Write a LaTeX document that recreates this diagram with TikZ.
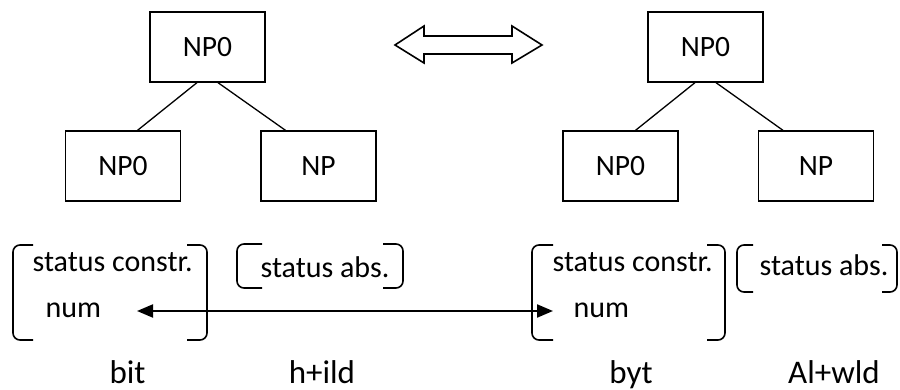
\documentclass[tikz,border=0pt]{standalone}
\usepackage{fontspec}
\setmainfont{Carlito}
\usetikzlibrary{arrows.meta}

\begin{document}
\begin{tikzpicture}[x=1pt,y=-1pt,line width=1.3pt,
	box/.style={draw,minimum width=115pt,minimum height=70pt,inner sep=0pt,font=\fontsize{29.5}{35}\selectfont},
	lab/.style={inner sep=0pt,anchor=base west,font=\fontsize{30}{36}\selectfont},
	word/.style={inner sep=0pt,anchor=base,font=\fontsize{33}{39}\selectfont},
	brk/.style={rounded corners=7pt,line width=1.6pt}]
	\useasboundingbox (0,0) rectangle (900,390);
	% left tree
	\node[box] (lt) at (207.5,47) {NP0};
	\node[box] (ll) at (123,166) {NP0};
	\node[box] (lr) at (318.5,166) {NP};
	\draw ([xshift=-10.5pt]lt.south) -- ([xshift=14.5pt]ll.north);
	\draw ([xshift=10.5pt]lt.south) -- ([xshift=-33pt]lr.north);
	% right tree
	\node[box] (rt) at (705.5,47) {NP0};
	\node[box] (rl) at (620.5,166) {NP0};
	\node[box] (rr) at (816,166) {NP};
	\draw ([xshift=-10.5pt]rt.south) -- ([xshift=15pt]rl.north);
	\draw ([xshift=10.5pt]rt.south) -- ([xshift=-33pt]rr.north);
	% hollow double arrow between the trees
	\draw[line width=1.6pt,line join=miter] (395,45) -- (424,26) -- (424,36) -- (512,36) -- (512,26)
		-- (542,45) -- (512,63) -- (512,54) -- (424,54) -- (424,63) -- cycle;
	% feature brackets
	\draw[brk] (33,245) -- (13,245) -- (13,340) -- (33,340);
	\draw[brk] (187,245) -- (207,245) -- (207,340) -- (187,340);
	\draw[brk] (262,244) -- (237,244) -- (237,288) -- (262,288);
	\draw[brk] (383,244) -- (403,244) -- (403,288) -- (383,288);
	\draw[brk] (553,245) -- (532,245) -- (532,340) -- (553,340);
	\draw[brk] (707,245) -- (725,245) -- (725,340) -- (707,340);
	\draw[brk] (753,245) -- (737,245) -- (737,292) -- (753,292);
	\draw[brk] (882,245) -- (897,245) -- (897,292) -- (882,292);
	\node[lab] (sc1) at (32,272) {status constr.};
	\node[lab] (num1) at (45,317) {num};
	\node[lab] (sa1) at (260,278) {status abs.};
	\node[lab] (sc2) at (552,272) {status constr.};
	\node[lab] (num2) at (573,317) {num};
	\node[lab] (sa2) at (759,276) {status abs.};
	% agreement link
	\coordinate (n1) at (137,311);
	\coordinate (n2) at (553,311);
	\draw[{Triangle[length=16pt,width=13pt]}-{Triangle[length=16pt,width=13pt]},line width=2pt] (n1) -- (n2);
	% word forms
	\node[word] (w1) at (127.5,383) {bit};
	\node[word] (w2) at (322,383) {h+ild};
	\node[word] (w3) at (631,383) {byt};
	\node[word] (w4) at (834,383) {Al+wld};
\end{tikzpicture}
\end{document}
